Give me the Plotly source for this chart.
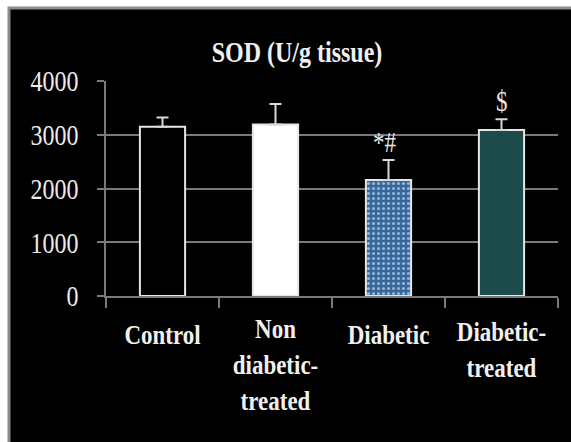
import plotly.graph_objects as go

# SOD activity per group (U/g tissue), mean and SD
groups = ["Control", "Non diabetic-treated", "Diabetic", "Diabetic-treated"]
tick_labels = ["Control", "Non<br>diabetic-<br>treated", "Diabetic", "Diabetic-<br>treated"]
sod_mean = [3150, 3190, 2160, 3090]
sod_sd = [170, 380, 370, 200]
sig_marks = ["", "", "*#", "$"]
y_ticks = [0, 1000, 2000, 3000, 4000]

fills = ["#000000", "#ffffff", "#33679e", "#1d4a4a"]
pattern_shapes = ["", "", ".", ""]
pattern_fg = ["#000000", "#ffffff", "#5890c8", "#1d4a4a"]

serif = "Liberation Serif, Times New Roman, serif"
grid_col = "#7a7a7a"

fig = go.Figure()
fig.add_trace(go.Bar(
    x=groups,
    y=sod_mean,
    width=0.4,
    marker=dict(
        color=fills,
        line=dict(color="#e6e6e6", width=2),
        pattern=dict(shape=pattern_shapes, fgcolor=pattern_fg,
                     size=5, solidity=0.3, fillmode="overlay"),
    ),
    error_y=dict(type="data", array=sod_sd, symmetric=False,
                 arrayminus=[0] * len(sod_sd), color="#d8d8d8",
                 thickness=2, width=6),
    showlegend=False,
))

# significance marks above the error bars
for g, m, s, mark in zip(groups, sod_mean, sod_sd, sig_marks):
    if mark:
        fig.add_annotation(x=g, y=m + s, text=mark, showarrow=False,
                           yanchor="bottom", yshift=3,
                           xshift=-4 if mark == "*#" else 0,
                           font=dict(family=serif, size=23, color="#e8e8e8"))

# framed black panel
fig.add_shape(type="rect", xref="paper", yref="paper",
              x0=-0.2146, x1=1.2, y0=-1.0, y1=1.3395,
              fillcolor="#000000", line=dict(color="#8a8a8a", width=3),
              layer="below")

fig.update_layout(
    width=571, height=442,
    margin=dict(l=106, r=13, t=81, b=146),
    paper_bgcolor="#ffffff",
    plot_bgcolor="rgba(0,0,0,0)",
    title=dict(text="<b>SOD (U/g tissue)</b>", x=0.4226, xref="paper",
               y=1 - 52 / 442, yref="container", xanchor="center",
               yanchor="middle",
               font=dict(family=serif, size=24, color="#f0f0f0")),
    bargap=0.6,
)

fig.update_yaxes(
    range=[0, 4000], tickvals=y_ticks, ticktext=[str(v) for v in y_ticks],
    showgrid=True, gridcolor=grid_col, gridwidth=1.5,
    showline=True, linecolor=grid_col, linewidth=1.5,
    ticks="outside", ticklen=7, tickcolor=grid_col, tickwidth=1.5,
    ticklabelstandoff=14,
    tickfont=dict(family=serif, size=24, color="#ececec"),
    zeroline=False,
)
fig.update_xaxes(
    tickvals=groups, ticktext=["<b>" + t + "</b>" for t in tick_labels],
    tickson="boundaries",
    showline=True, linecolor=grid_col, linewidth=1.5,
    ticks="outside", ticklen=10, tickcolor=grid_col, tickwidth=1.5,
    ticklabelstandoff=17,
    tickfont=dict(family=serif, size=23, color="#f0f0f0"),
    showgrid=False,
)

# Stretch the serif text vertically about its own centre so the glyphs
# get the tall, narrow look of a condensed face.
stretch_js = """
var gd = document.querySelector('.js-plotly-plot');
function stretch(el, sy) {
  var r = el.getBoundingClientRect();
  var parent = el.parentNode;
  var svg = el.ownerSVGElement;
  var p = svg.createSVGPoint();
  p.x = r.left + r.width / 2; p.y = r.top + r.height / 2;
  var q = p.matrixTransform(parent.getScreenCTM().inverse());
  var g = document.createElementNS('http://www.w3.org/2000/svg', 'g');
  parent.insertBefore(g, el);
  g.appendChild(el);
  g.setAttribute('transform', 'translate(0,' + q.y + ') scale(1,' + sy +
                 ') translate(0,' + (-q.y) + ')');
}
gd.querySelectorAll('.ytick text, .gtitle, .annotation-text').forEach(function (t) { stretch(t, 1.25); });
gd.querySelectorAll('.xtick text').forEach(function (t) { stretch(t, 1.2); });
"""

fig.write_html("out.html", post_script=stretch_js)
